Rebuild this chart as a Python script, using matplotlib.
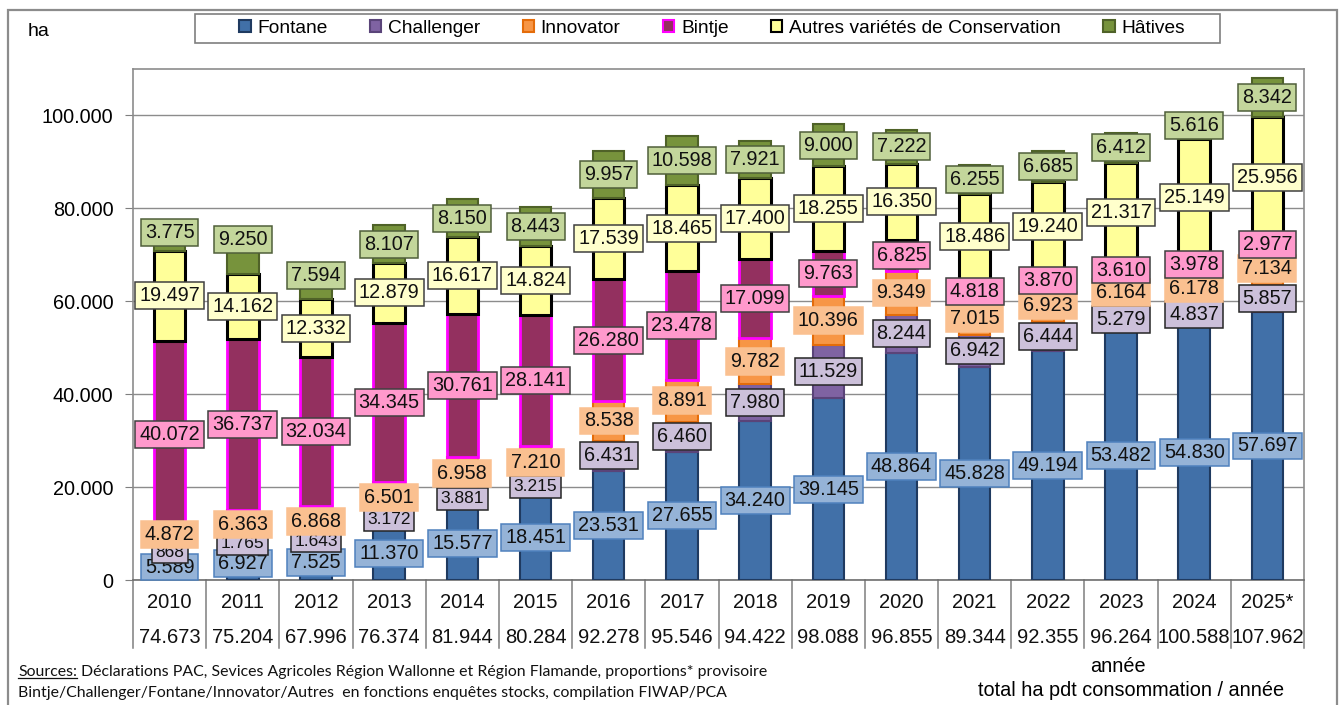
import matplotlib
matplotlib.use('Agg')
import matplotlib.pyplot as plt
from matplotlib.patches import Patch, Rectangle
from matplotlib.lines import Line2D
import matplotlib.transforms as mtransforms
import numpy as np

# ---------------- data ----------------
years = ['2010', '2011', '2012', '2013', '2014', '2015', '2016', '2017',
         '2018', '2019', '2020', '2021', '2022', '2023', '2024', '2025*']
fontane = [5589, 6927, 7525, 11370, 15577, 18451, 23531, 27655,
           34240, 39145, 48864, 45828, 49194, 53482, 54830, 57697]
challenger = [868, 1765, 1643, 3172, 3881, 3215, 6431, 6460,
              7980, 11529, 8244, 6942, 6444, 5279, 4837, 5857]
innovator = [4872, 6363, 6868, 6501, 6958, 7210, 8538, 8891,
             9782, 10396, 9349, 7015, 6923, 6164, 6178, 7134]
bintje = [40072, 36737, 32034, 34345, 30761, 28141, 26280, 23478,
          17099, 9763, 6825, 4818, 3870, 3610, 3978, 2977]
autres = [19497, 14162, 12332, 12879, 16617, 14824, 17539, 18465,
          17400, 18255, 16350, 18486, 19240, 21317, 25149, 25956]
hatives = [3775, 9250, 7594, 8107, 8150, 8443, 9957, 10598,
           7921, 9000, 7222, 6255, 6685, 6412, 5616, 8342]
totals = [74673, 75204, 67996, 76374, 81944, 80284, 92278, 95546,
          94422, 98088, 96855, 89344, 92355, 96264, 100588, 107962]
series_names = ['Fontane', 'Challenger', 'Innovator', 'Bintje',
                'Autres variétés de Conservation', 'Hâtives']
yticks = [0, 20000, 40000, 60000, 80000, 100000]

# ---------------- styles ----------------
bar_face = ['#4170A8', '#7F63A2', '#F79646', '#93305F', '#FFFF99', '#77933C']
bar_edge = ['#1F3A60', '#5A4479', '#E46C0A', '#FF00FF', '#000000', '#4F6228']
bar_lw = [1.5, 1.5, 1.5, 2.0, 2.2, 1.5]
lab_face = ['#95B3D7', '#CCC0DA', '#FAC090', '#FF99CC', '#FFFFCC', '#C3D69B']
lab_edge = ['#4F81BD', '#262626', '#FAC090', '#404040', '#404040', '#4F5F3A']
LABEL_FS = 14.3
SMALL_FS = 12.5          # Challenger labels of the first six years are smaller
small_cols = range(6)
# manual label nudges (series index, year index) -> pixels upward
label_nudge = {(5, 0): 9, (5, 1): 13, (5, 2): 6, (2, 0): 4}

FONT = 'Liberation Sans'
plt.rcParams['font.family'] = [FONT, 'DejaVu Sans']


def fmt(v):
    return f"{v:,}".replace(',', '.')


W, H = 1340, 705
fig = plt.figure(figsize=(W / 100, H / 100), dpi=100)
fig.patch.set_facecolor('white')

# outer frame
fig.add_artist(Rectangle((8 / W, -0.05), (1337 - 8) / W, 1 - 10 / H + 0.05,
                         transform=fig.transFigure, fill=False,
                         edgecolor='#8C8C8C', lw=1.6))

ax_l, ax_r, ax_t, ax_b = 133, 1304, 69, 580
ax = fig.add_axes([ax_l / W, 1 - ax_b / H, (ax_r - ax_l) / W, (ax_b - ax_t) / H])

x = np.arange(len(years))
series = [fontane, challenger, innovator, bintje, autres, hatives]
bottom = np.zeros(len(years))
for i, s in enumerate(series):
    vals = np.array(s, dtype=float)
    ax.bar(x, vals, width=0.43, bottom=bottom, color=bar_face[i],
           edgecolor=bar_edge[i], linewidth=bar_lw[i], zorder=3)
    for j in range(len(years)):
        fs = SMALL_FS if (i == 1 and j in small_cols) else LABEL_FS
        tr = mtransforms.offset_copy(ax.transData, fig=fig, x=0,
                                     y=label_nudge.get((i, j), 0), units='dots')
        ax.text(x[j], bottom[j] + vals[j] / 2, fmt(int(vals[j])),
                transform=tr, ha='center', va='center', fontsize=fs,
                color='#111111', zorder=5,
                bbox=dict(boxstyle='square,pad=0.2', fc=lab_face[i],
                          ec=lab_edge[i], lw=1.1))
    bottom += vals

ax.set_xlim(-0.5, len(years) - 0.5)
ax.set_ylim(0, 110000)
ax.set_yticks(yticks)
ax.set_yticklabels([fmt(v) for v in yticks], fontsize=14.3)
ax.tick_params(axis='y', length=6, color='#7F7F7F', pad=8)
ax.set_xticks([])
ax.yaxis.grid(True, color='#8C8C8C', lw=1.0, zorder=0)
ax.set_axisbelow(True)
for sp in ax.spines.values():
    sp.set_color('#8C8C8C')
    sp.set_linewidth(1.2)
ax.spines['bottom'].set_color('#6E6E6E')

# table under the axis
trans = mtransforms.blended_transform_factory(ax.transData, ax.transAxes)
for j in range(len(years)):
    ax.text(x[j], -0.045, years[j], transform=trans, ha='center', va='center',
            fontsize=14.5, color='#111111')
    ax.text(x[j], -0.1135, fmt(totals[j]), transform=trans, ha='center',
            va='center', fontsize=14.5, color='#111111')
for k in range(len(years) + 1):
    ax.add_line(Line2D([k - 0.5, k - 0.5], [0, -0.133], transform=trans,
                       color='#7F7F7F', lw=1.1, clip_on=False))

# legend (frame drawn separately)
fig.add_artist(Rectangle((195 / W, 1 - 43 / H), (1220 - 195) / W, 29 / H,
                         transform=fig.transFigure, fill=True, facecolor='white',
                         edgecolor='#7F7F7F', lw=1.2))
handles = [Patch(facecolor=bar_face[i], edgecolor=bar_edge[i], lw=1.5)
           for i in range(len(series_names))]
LEG_FS = 13.8
target_w = 1185 - 239


def make_legend(cs):
    return fig.legend(handles, series_names, loc='center left', ncol=6,
                      bbox_to_anchor=(239 / W, 1 - 28.5 / H), frameon=False,
                      fontsize=LEG_FS, handlelength=0.6, handleheight=0.6,
                      handletextpad=0.35, columnspacing=cs, borderpad=0.0,
                      borderaxespad=0.0)


cs = 2.5
leg = make_legend(cs)
fig.canvas.draw()
r = fig.canvas.get_renderer()
w = leg.get_window_extent(renderer=r).width
leg.remove()
cs = cs + (target_w - w) / (5 * LEG_FS * 100 / 72)
leg = make_legend(cs)

fig.text(28 / W, 1 - 32 / H, 'ha', fontsize=14, ha='left', va='center')
fig.text(1118 / W, 1 - 666 / H, 'année', fontsize=14.3, ha='center', va='center')
fig.text(1131 / W, 1 - 690 / H, 'total ha pdt consommation / année',
         fontsize=14.3, ha='center', va='center')

# sources
src_font = 'Lato'
src_fs = 11.4
t1 = fig.text(18 / W, 1 - 672 / H, 'Sources:', fontsize=src_fs, family=src_font,
              ha='left', va='center', color='#111111')
bb = t1.get_window_extent(renderer=r)
fig.add_artist(Line2D([bb.x0 / W, bb.x1 / W], [(bb.y0 + 1) / H, (bb.y0 + 1) / H],
                      transform=fig.transFigure, color='#111111', lw=0.9))
fig.text(bb.x1 / W + 4 / W, 1 - 672 / H,
         'Déclarations PAC, Sevices Agricoles Région Wallonne et Région Flamande, proportions* provisoire',
         fontsize=src_fs, family=src_font, ha='left', va='center', color='#111111')
fig.text(18 / W, 1 - 693 / H,
         'Bintje/Challenger/Fontane/Innovator/Autres  en fonctions enquêtes stocks, compilation FIWAP/PCA',
         fontsize=src_fs, family=src_font, ha='left', va='center', color='#111111')

fig.savefig('out.png', dpi=100)
